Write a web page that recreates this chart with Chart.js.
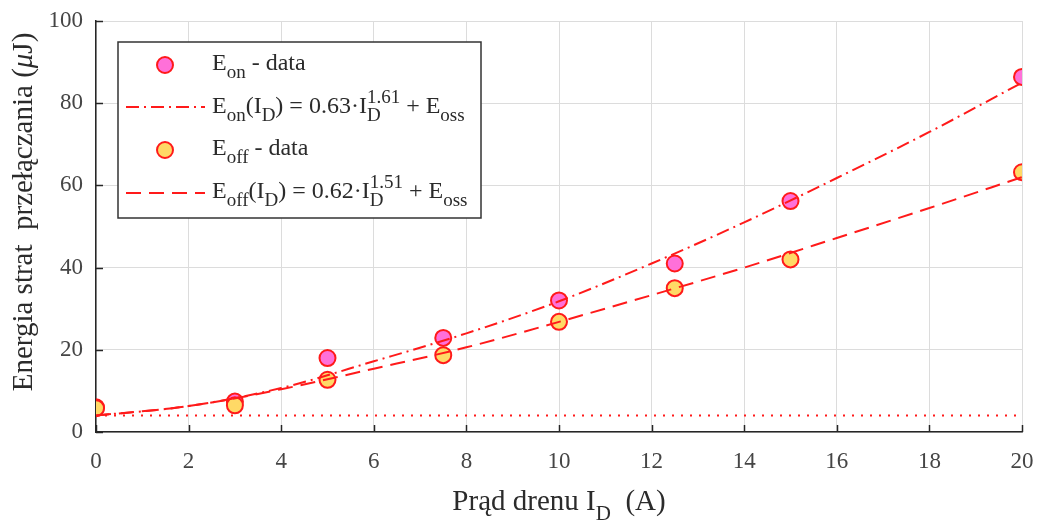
<!DOCTYPE html>
<html>
<head>
<meta charset="utf-8">
<script src="https://cdn.jsdelivr.net/npm/chart.js@4.4.0/dist/chart.umd.min.js"></script>
<style>
  html, body { margin: 0; padding: 0; background: #fff; }
  #wrap { width: 1042px; height: 521px; }
</style>
</head>
<body>
<div id="wrap"><canvas id="chart"></canvas></div>
<script>
// measured points
const currentA = [0, 3, 5, 7.5, 10, 12.5, 15, 20];
const eOnData = [6, 7.4, 18, 22.9, 32, 41, 56.2, 86.4];
const eOffData = [5.8, 6.5, 12.7, 18.7, 26.8, 35, 42, 63.2];

// fitted curves
const fitCurrent = [0, 2, 4, 6, 8, 10, 12, 14, 16, 18, 20];
const eOnFit = [4, 6.3, 10.7, 17.2, 24, 31.8, 41, 51, 61.8, 73, 85];
const eOffFit = [4, 6.3, 10.4, 15.4, 20.6, 26.8, 33.3, 40, 47.2, 54.5, 62];

// E_oss level (dotted line)
const eOssX = [0, 20];
const eOssY = [4, 4];

const xTicks = [0, 2, 4, 6, 8, 10, 12, 14, 16, 18, 20];
const yTicks = [0, 20, 40, 60, 80, 100];

const RED = '#ff1a1a';
const PINK = '#ff70d9';
const YELLOW = '#ffd966';
const SERIF = '"Liberation Serif", "DejaVu Serif", serif';
const TEXT = '#2b2b2b';

const pts = (xs, ys) => xs.map((x, i) => ({ x: x, y: ys[i] }));

// draws text pieces: [text, 'n' | 'sub' | 'sup' | 'it'] or {sub, sup}
function drawRich(ctx, x, y, parts, size, small) {
  ctx.textBaseline = 'alphabetic';
  ctx.textAlign = 'left';
  parts.forEach(p => {
    if (Array.isArray(p)) {
      const [t, kind] = p;
      if (kind === 'sub') {
        ctx.font = small + 'px ' + SERIF;
        ctx.fillText(t, x, y + size * 0.35);
      } else if (kind === 'sup') {
        ctx.font = small + 'px ' + SERIF;
        ctx.fillText(t, x, y - size * 0.4);
      } else if (kind === 'it') {
        ctx.font = 'italic ' + size + 'px ' + SERIF;
        ctx.fillText(t, x, y);
      } else {
        ctx.font = size + 'px ' + SERIF;
        ctx.fillText(t, x, y);
      }
      x += ctx.measureText(t).width;
    } else {
      ctx.font = small + 'px ' + SERIF;
      ctx.fillText(p.sub, x, y + size * 0.35);
      const w1 = ctx.measureText(p.sub).width;
      ctx.fillText(p.sup, x, y - size * 0.42);
      const w2 = ctx.measureText(p.sup).width;
      x += Math.max(w1, w2);
    }
  });
  return x;
}

function richWidth(ctx, parts, size, small) {
  let w = 0;
  parts.forEach(p => {
    if (Array.isArray(p)) {
      const [t, kind] = p;
      if (kind === 'sub' || kind === 'sup') ctx.font = small + 'px ' + SERIF;
      else if (kind === 'it') ctx.font = 'italic ' + size + 'px ' + SERIF;
      else ctx.font = size + 'px ' + SERIF;
      w += ctx.measureText(t).width;
    } else {
      ctx.font = small + 'px ' + SERIF;
      w += Math.max(ctx.measureText(p.sub).width, ctx.measureText(p.sup).width);
    }
  });
  return w;
}

const decorPlugin = {
  id: 'decor',
  afterDraw(chart) {
    const ctx = chart.ctx;
    const area = chart.chartArea;
    const xs = chart.scales.x, ys = chart.scales.y;
    ctx.save();

    // inward ticks
    ctx.strokeStyle = '#262626';
    ctx.lineWidth = 1.5;
    ctx.setLineDash([]);
    xTicks.forEach(v => {
      const px = Math.round(xs.getPixelForValue(v)) + 0.5;
      ctx.beginPath();
      ctx.moveTo(px, area.bottom);
      ctx.lineTo(px, area.bottom - 7);
      ctx.stroke();
    });
    yTicks.forEach(v => {
      const py = Math.round(ys.getPixelForValue(v)) + 0.5;
      ctx.beginPath();
      ctx.moveTo(area.left, py);
      ctx.lineTo(area.left + 7, py);
      ctx.stroke();
    });

    // axis titles
    ctx.fillStyle = TEXT;
    const xTitle = [['Prąd drenu I', 'n'], ['D', 'sub'], ['  (A)', 'n']];
    const xw = richWidth(ctx, xTitle, 29, 21);
    drawRich(ctx, (area.left + area.right) / 2 - xw / 2, 510, xTitle, 29, 21);

    const yTitle = [['Energia strat  przełączania (', 'n'], ['μ', 'it'], ['J)', 'n']];
    const yw = richWidth(ctx, yTitle, 29, 21);
    ctx.save();
    ctx.translate(32, 212);
    ctx.rotate(-Math.PI / 2);
    drawRich(ctx, -yw / 2, 0, yTitle, 29, 21);
    ctx.restore();

    // legend box
    ctx.fillStyle = '#fff';
    ctx.fillRect(118, 42, 363, 176);
    ctx.strokeStyle = '#333';
    ctx.lineWidth = 1.5;
    ctx.strokeRect(118, 42, 363, 176);

    const marker = (x, y, fill) => {
      ctx.setLineDash([]);
      ctx.beginPath();
      ctx.arc(x, y, 8, 0, Math.PI * 2);
      ctx.fillStyle = fill;
      ctx.fill();
      ctx.strokeStyle = RED;
      ctx.lineWidth = 2;
      ctx.stroke();
    };
    const sample = (y, dash) => {
      ctx.setLineDash(dash);
      ctx.strokeStyle = RED;
      ctx.lineWidth = 2;
      ctx.beginPath();
      ctx.moveTo(126, y);
      ctx.lineTo(205, y);
      ctx.stroke();
      ctx.setLineDash([]);
    };
    marker(165, 65, PINK);
    sample(107, [13, 5, 2, 5]);
    marker(165, 150, YELLOW);
    sample(193, [15, 8]);

    ctx.fillStyle = TEXT;
    const tx = 212;
    drawRich(ctx, tx, 70, [['E', 'n'], ['on', 'sub'], [' - data', 'n']], 24, 19);
    drawRich(ctx, tx, 113, [['E', 'n'], ['on', 'sub'], ['(I', 'n'], ['D', 'sub'], [') = 0.63·I', 'n'],
      { sub: 'D', sup: '1.61' }, [' + E', 'n'], ['oss', 'sub']], 24, 19);
    drawRich(ctx, tx, 155, [['E', 'n'], ['off', 'sub'], [' - data', 'n']], 24, 19);
    drawRich(ctx, tx, 198, [['E', 'n'], ['off', 'sub'], ['(I', 'n'], ['D', 'sub'], [') = 0.62·I', 'n'],
      { sub: 'D', sup: '1.51' }, [' + E', 'n'], ['oss', 'sub']], 24, 19);

    ctx.restore();
  }
};

new Chart(document.getElementById('chart'), {
  type: 'scatter',
  data: {
    datasets: [
      {
        label: 'Eon fit',
        data: pts(fitCurrent, eOnFit),
        showLine: true,
        pointRadius: 0,
        borderColor: RED,
        borderWidth: 2,
        borderDash: [13, 5, 2, 5],
        cubicInterpolationMode: 'monotone',
        order: 0
      },
      {
        label: 'Eoff fit',
        data: pts(fitCurrent, eOffFit),
        showLine: true,
        pointRadius: 0,
        borderColor: RED,
        borderWidth: 2,
        borderDash: [15, 8],
        cubicInterpolationMode: 'monotone',
        order: 1
      },
      {
        label: 'Eoff - data',
        data: pts(currentA, eOffData),
        pointRadius: 8,
        pointBorderWidth: 2,
        pointBorderColor: RED,
        pointBackgroundColor: YELLOW,
        order: 2
      },
      {
        label: 'Eon - data',
        data: pts(currentA, eOnData),
        pointRadius: 8,
        pointBorderWidth: 2,
        pointBorderColor: RED,
        pointBackgroundColor: PINK,
        order: 3
      },
      {
        label: 'Eoss',
        data: pts(eOssX, eOssY),
        showLine: true,
        pointRadius: 0,
        borderColor: RED,
        borderWidth: 2,
        borderDash: [2, 7],
        order: 4
      }
    ]
  },
  options: {
    responsive: true,
    maintainAspectRatio: false,
    animation: false,
    layout: { padding: { top: 21, right: 20, left: 0, bottom: 0 } },
    plugins: {
      legend: { display: false },
      tooltip: { enabled: false }
    },
    scales: {
      x: {
        type: 'linear',
        min: 0,
        max: 20,
        afterFit: s => { s.height = 89; s.paddingLeft = 0; s.paddingRight = 0; },
        afterBuildTicks: s => { s.ticks = xTicks.map(v => ({ value: v })); },
        ticks: { color: '#454545', padding: 16, font: { family: SERIF, size: 23 }, maxRotation: 0 },
        grid: { color: '#dcdcdc', lineWidth: 1, drawTicks: false },
        border: { display: true, color: '#262626', width: 1.5 }
      },
      y: {
        min: 0,
        max: 100,
        afterFit: s => { s.width = 96; s.paddingTop = 0; s.paddingBottom = 0; },
        afterBuildTicks: s => { s.ticks = yTicks.map(v => ({ value: v })); },
        ticks: { color: '#454545', padding: 13, font: { family: SERIF, size: 23 } },
        grid: { color: '#dcdcdc', lineWidth: 1, drawTicks: false },
        border: { display: true, color: '#262626', width: 1.5 }
      }
    }
  },
  plugins: [decorPlugin]
});
</script>
</body>
</html>
